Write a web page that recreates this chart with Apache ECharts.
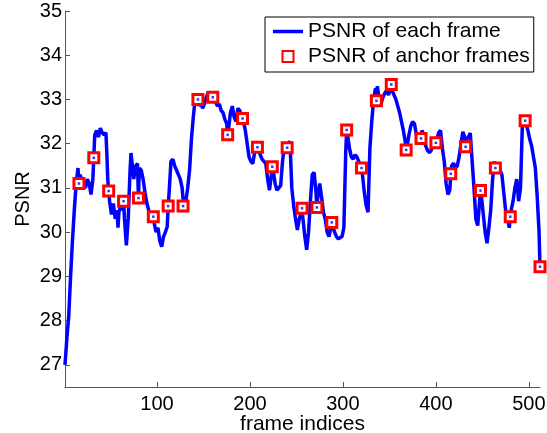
<!DOCTYPE html>
<html>
<head>
<meta charset="utf-8">
<script src="https://cdn.jsdelivr.net/npm/echarts@6/dist/echarts.min.js"></script>
<style>html,body{margin:0;padding:0;background:#fff;}#chart{width:547px;height:433px;}</style>
</head>
<body>
<div id="chart"></div>
<script>
// Frame index / PSNR of each frame
var frames = [1,3,5,7,9,11,13,15,16,17,19,21,23,25,27,29,31,32,33,35,37,39,41,43,45,46,47,48,49,51,53,55,57,58,59,61,63,64,65,66,67,69,71,72,73,75,77,79,80,81,83,85,87,89,91,93,95,96,97,99,101,103,105,107,109,111,112,113,115,117,119,121,123,125,127,128,129,131,133,135,137,139,141,143,144,145,147,149,151,153,155,157,159,160,161,163,165,167,169,171,173,175,176,177,179,181,183,185,187,189,191,192,193,195,197,199,201,203,205,207,208,209,211,213,215,217,219,221,223,224,225,227,229,231,233,235,237,239,240,241,243,245,247,249,251,253,255,256,257,259,261,263,265,267,269,271,272,273,275,277,279,281,283,285,287,288,289,291,293,295,297,299,301,303,304,305,307,309,311,313,315,317,319,320,321,323,325,327,329,331,333,335,336,337,339,341,343,345,347,349,351,352,353,355,357,359,361,363,365,367,368,369,371,373,375,377,379,381,383,384,385,387,389,391,393,395,397,399,400,401,403,405,407,409,411,413,415,416,417,419,421,423,425,427,429,431,432,433,435,437,439,441,443,445,447,448,449,451,453,455,457,459,461,463,464,465,467,469,471,473,475,477,479,480,481,483,485,487,489,491,493,495,496,497,499,501,503,505,507,509,511,512];
var psnr = [27.0,27.6,28.1,29.0,29.8,30.5,31.1,31.45,31.1,31.3,31.2,31.05,31.0,31.2,31.1,30.85,31.2,31.7,32.2,32.3,32.15,32.35,32.25,32.2,32.25,31.8,31.2,30.93,30.7,30.4,30.65,30.3,30.5,30.1,30.45,30.6,30.5,30.7,30.3,30.0,29.7,30.3,31.4,31.79,31.6,31.2,31.5,31.55,30.77,31.45,31.4,31.2,30.9,30.66,30.5,30.4,30.45,30.35,30.2,30.0,30.1,29.8,29.67,29.9,30.0,30.13,30.59,30.9,31.6,31.65,31.5,31.4,31.3,31.2,31.0,30.75,30.75,30.7,31.0,31.4,32.1,32.6,33.0,32.95,33.0,32.85,32.95,32.8,32.9,33.05,33.15,33.1,33.0,33.05,33.1,32.95,32.85,32.9,32.75,32.7,32.55,32.45,32.2,32.35,32.7,32.85,32.6,32.5,32.8,32.75,32.6,32.57,32.5,32.3,32.0,31.7,31.6,31.55,31.8,32.05,31.92,31.9,31.75,31.65,31.6,31.55,31.2,30.95,31.3,31.48,31.4,31.1,30.95,31.0,31.05,31.6,31.95,31.9,31.91,32.0,32.05,31.0,30.6,30.3,30.05,30.3,30.45,30.54,30.3,29.9,29.6,30.0,30.7,31.3,31.35,30.9,30.56,30.8,31.1,30.8,30.45,30.3,30.0,29.9,30.1,30.22,30.2,30.0,29.9,29.85,29.82,29.9,30.1,31.8,32.31,32.2,31.9,31.7,31.65,31.75,31.7,31.6,31.5,31.45,31.3,30.9,30.6,30.45,31.9,32.5,33.0,33.25,32.97,33.3,33.0,32.9,33.05,33.14,33.2,33.1,33.25,33.34,33.2,33.1,33.0,32.85,32.7,32.5,32.3,32.05,31.86,31.95,32.2,32.4,32.5,32.45,32.2,32.0,32.05,32.12,32.3,32.2,31.95,31.85,31.8,31.85,32.0,32.1,32.02,32.1,32.25,32.3,31.9,31.6,31.1,30.85,30.95,31.32,31.5,31.56,31.45,31.5,31.7,32.0,32.27,32.15,31.91,32.1,32.15,32.24,31.6,31.0,30.3,30.15,30.7,30.94,30.8,30.4,30.0,29.75,30.1,30.5,31.2,31.6,31.45,31.5,31.55,31.4,31.3,30.9,30.5,30.3,30.1,30.35,30.5,30.7,31.0,31.2,30.7,31.0,32.4,32.5,32.52,32.45,32.3,32.1,31.95,31.7,31.45,30.8,30.0,29.22];

// Anchor frames (every 16th frame)
var anchorFrames = [16,32,48,64,80,96,112,128,144,160,176,192,208,224,240,256,272,288,304,320,336,352,368,384,400,416,432,448,464,480,496,512];
var anchorPsnr = [31.1,31.68,30.93,30.7,30.77,30.35,30.59,30.59,33.0,33.05,32.2,32.57,31.92,31.48,31.91,30.54,30.56,30.22,32.31,31.45,32.97,33.34,31.86,32.12,32.02,31.32,31.93,30.94,31.45,30.35,32.52,29.22];

// Tick labels
var xTicks = [100,200,300,400,500];
var yTicks = [27,28,29,30,31,32,33,34,35];

var lineData = frames.map(function(f,i){return [f, psnr[i]];});
var anchorData = anchorFrames.map(function(f,i){return [f, anchorPsnr[i]];});

var FONT = 'Liberation Sans, Arial, Helvetica, sans-serif';
var chart = echarts.init(document.getElementById('chart'), null, {renderer:'canvas'});
chart.setOption({
  animation: false,
  backgroundColor: '#ffffff',
  grid: {left: 65, right: 7, top: 11, bottom: 46, containLabel: false, outerBoundsMode: 'none'},
  legend: {
    orient: 'vertical',
    left: 265, top: 17,
    padding: [4, 4, 5, 8],
    itemGap: 4,
    itemWidth: 30, itemHeight: 11,
    borderColor: '#000', borderWidth: 1,
    backgroundColor: '#fff',
    textStyle: {fontFamily: FONT, fontSize: 21, color: '#000'},
    data: [
      {name: 'PSNR of each frame', icon: 'path://M0,0 L30,0 L30,3.5 L0,3.5 Z'},
      {name: 'PSNR of anchor frames', icon: 'path://M0,0 L10,0 L10,10 L0,10 Z'}
    ],
    selectedMode: false
  },
  xAxis: {
    type: 'value', min: 1, max: 512,
    name: 'frame indices', nameLocation: 'middle', nameGap: 27, nameMoveOverlap: false,
    nameTextStyle: {fontFamily: FONT, fontSize: 21, color: '#000'},
    axisLine: {show: true, lineStyle: {color: '#555', width: 1}},
    axisTick: {show: true, inside: true, length: 5, customValues: xTicks, lineStyle: {color: '#555'}},
    axisLabel: {customValues: xTicks, fontFamily: FONT, fontSize: 20, color: '#000', margin: 7},
    splitLine: {show: false}
  },
  yAxis: {
    type: 'value', min: 26.5, max: 35,
    name: 'PSNR', nameLocation: 'middle', nameGap: 32, nameRotate: 90, nameMoveOverlap: false,
    nameTextStyle: {fontFamily: FONT, fontSize: 20, color: '#000'},
    axisLine: {show: true, lineStyle: {color: '#555', width: 1}},
    axisTick: {show: true, inside: true, length: 5, customValues: yTicks, lineStyle: {color: '#555'}},
    axisLabel: {customValues: yTicks, fontFamily: FONT, fontSize: 20, color: '#000', margin: 3},
    splitLine: {show: false}
  },
  series: [
    {
      name: 'PSNR of each frame', type: 'line', data: lineData,
      symbol: 'none', showSymbol: false,
      lineStyle: {color: '#0000ff', width: 3.5},
      itemStyle: {color: '#0000ff'},
      z: 2
    },
    {
      name: 'PSNR of anchor frames', type: 'scatter', data: anchorData,
      symbol: 'rect', symbolSize: 10,
      itemStyle: {color: '#ffffff', borderColor: '#ff0000', borderWidth: 3, opacity: 1},
      z: 3
    },
    {
      name: 'anchorDot', type: 'scatter', data: anchorData,
      symbol: 'rect', symbolSize: 2.5,
      itemStyle: {color: '#0000ff'},
      z: 4, silent: true
    }
  ]
});
</script>
</body>
</html>
